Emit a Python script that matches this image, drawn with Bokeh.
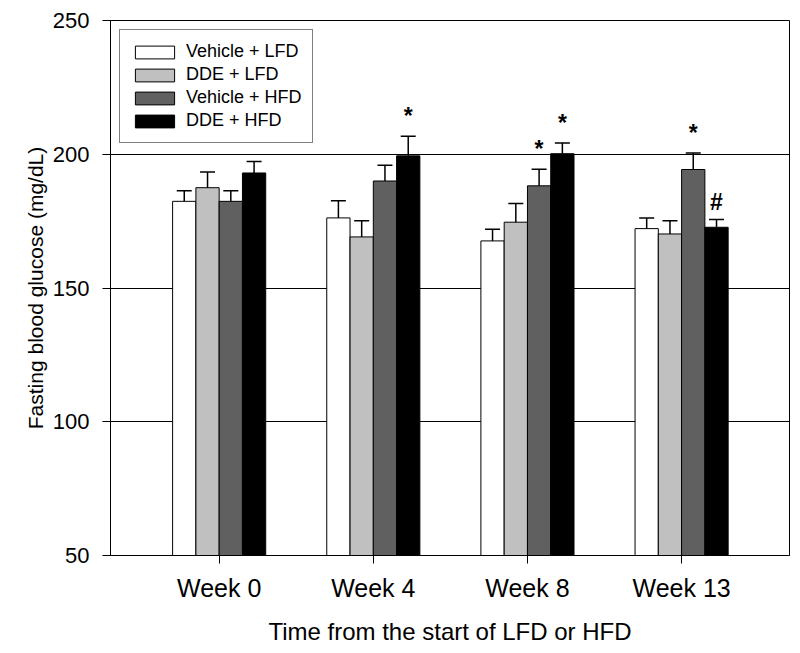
from bokeh.plotting import figure
from bokeh.models import (ColumnDataSource, Whisker, TeeHead, Range1d, FixedTicker,
                          Legend, LegendItem)
from bokeh.core.properties import value
from bokeh.embed import file_html
from bokeh.resources import INLINE

weeks = ["Week 0", "Week 4", "Week 8", "Week 13"]
series_names = ["Vehicle + LFD", "DDE + LFD", "Vehicle + HFD", "DDE + HFD"]

vehicle_lfd = [182.4, 176.2, 167.6, 172.2]
vehicle_lfd_se = [4.0, 6.4, 4.4, 4.0]
dde_lfd = [187.5, 169.1, 174.6, 170.2]
dde_lfd_se = [5.9, 6.0, 7.0, 4.9]
vehicle_hfd = [182.4, 190.0, 188.2, 194.3]
vehicle_hfd_se = [4.0, 5.9, 6.2, 6.2]
dde_hfd = [193.0, 199.4, 200.2, 172.7]
dde_hfd_se = [4.3, 7.3, 4.0, 2.9]

marks_vehicle_lfd = ["", "", "", ""]
marks_dde_lfd = ["", "", "", ""]
marks_vehicle_hfd = ["", "", "*", "*"]
marks_dde_hfd = ["", "*", "*", "#"]

y_ticks = [50, 100, 150, 200, 250]
grid_values = [100, 150, 200]

FONT = "Liberation Sans"
fills = ["#ffffff", "#c0c0c0", "#606060", "#000000"]
bar_w = 0.151
offsets = [-1.5 * bar_w, -0.5 * bar_w, 0.5 * bar_w, 1.5 * bar_w]
mark_lift = {"*": -20, "#": -18, "": 0}

series = [
    (vehicle_lfd, vehicle_lfd_se, marks_vehicle_lfd),
    (dde_lfd, dde_lfd_se, marks_dde_lfd),
    (vehicle_hfd, vehicle_hfd_se, marks_vehicle_hfd),
    (dde_hfd, dde_hfd_se, marks_dde_hfd),
]

p = figure(width=795, height=650, output_backend="svg", toolbar_location=None,
           x_range=Range1d(-0.705, 3.70), y_range=Range1d(50, 250))
p.min_border_left = 110
p.min_border_right = 6
p.min_border_top = 20
p.min_border_bottom = 95
p.background_fill_color = "white"
p.border_fill_color = "white"
p.outline_line_color = "black"
p.outline_line_width = 1

items = []
for i, (vals, ses, marks) in enumerate(series):
    xs = [k + offsets[i] for k in range(len(weeks))]
    src = ColumnDataSource(dict(
        x=xs, top=vals,
        upper=[v + s for v, s in zip(vals, ses)],
        mark=marks,
        lift=[mark_lift[m] for m in marks],
    ))
    r = p.vbar(x="x", top="top", bottom=50, width=bar_w, source=src,
               fill_color=fills[i], line_color="black", line_width=1)
    items.append(LegendItem(label=series_names[i], renderers=[r]))
    w = Whisker(base="x", upper="upper", lower="top", source=src,
                line_color="black", line_width=1.5, level="overlay",
                upper_head=TeeHead(size=15, line_color="black", line_width=1.5),
                lower_head=None)
    p.add_layout(w)
    p.text(x="x", y="upper", text="mark", source=src,
           text_font=value(FONT), text_font_size="23px", text_font_style="bold",
           text_align="center", text_baseline="alphabetic", y_offset="lift",
           text_color="black")

# axes
p.xaxis.ticker = FixedTicker(ticks=list(range(len(weeks))))
p.xaxis.major_label_overrides = {k: w for k, w in enumerate(weeks)}
p.yaxis.ticker = FixedTicker(ticks=y_ticks)
for ax in (p.xaxis, p.yaxis):
    ax.major_tick_out = 8
    ax.major_tick_in = 0
    ax.minor_tick_line_color = None
    ax.axis_line_color = "black"
    ax.axis_line_width = 1
    ax.major_tick_line_color = "black"
    ax.major_tick_line_width = 1
    ax.major_label_text_font = FONT
    ax.major_label_text_color = "black"
    ax.axis_label_text_font = FONT
    ax.axis_label_text_font_style = "normal"
    ax.axis_label_text_color = "black"

p.xaxis.major_label_text_font_size = "25px"
p.xaxis.axis_label_text_font_size = "24px"
p.yaxis.major_label_text_font_size = "22px"
p.yaxis.axis_label_text_font_size = "21px"

p.xaxis.axis_label = "Time from the start of LFD or HFD"
p.yaxis.axis_label = "Fasting blood glucose (mg/dL)"
p.xaxis.major_label_standoff = 10
p.xaxis.axis_label_standoff = 13
p.yaxis.major_label_standoff = 13
p.yaxis.axis_label_standoff = 3

p.xgrid.grid_line_color = None
p.ygrid.ticker = FixedTicker(ticks=grid_values)
p.ygrid.grid_line_color = "black"
p.ygrid.grid_line_width = 1

legend = Legend(items=items, location="top_left", margin=9, padding=10,
                spacing=0, glyph_width=49, glyph_height=16, label_height=23,
                label_standoff=7, label_text_font=FONT, label_text_font_size="18px",
                label_text_color="black", border_line_color="black",
                border_line_width=1.5, background_fill_color="white",
                background_fill_alpha=1.0)
p.add_layout(legend)

open("out.html", "w").write(file_html(p, INLINE))
